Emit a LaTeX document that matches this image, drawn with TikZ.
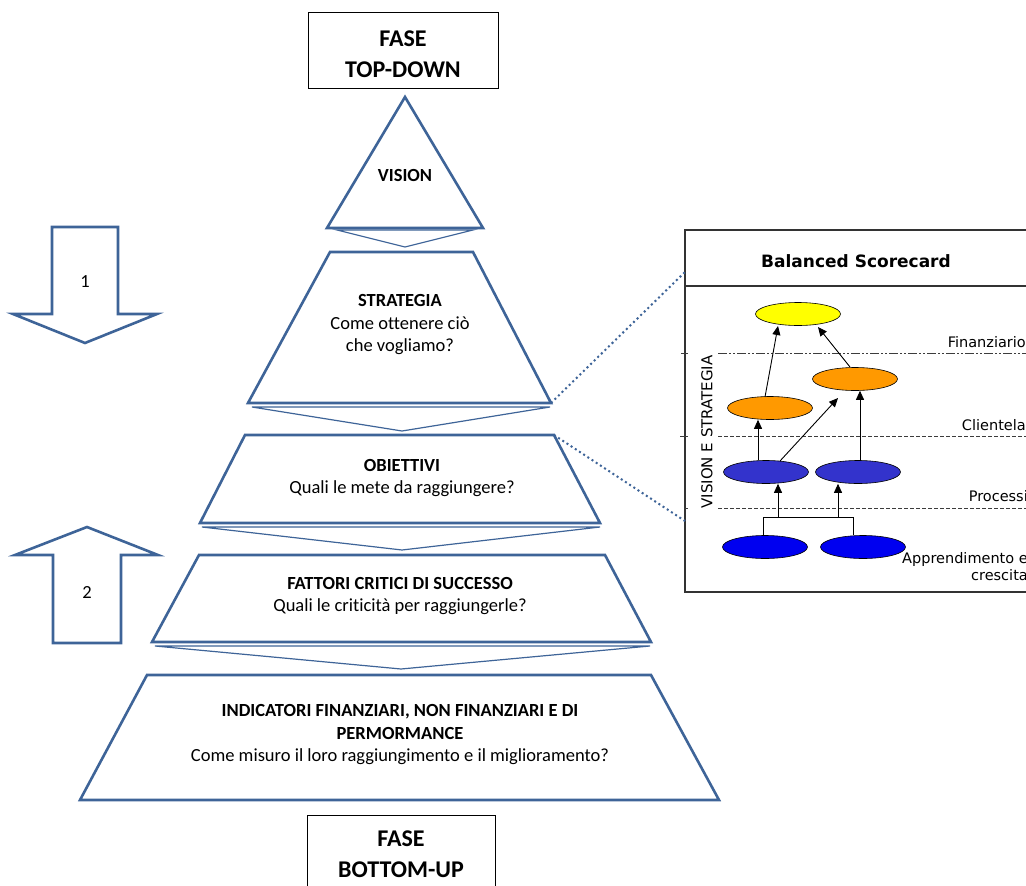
\documentclass[tikz,border=0pt]{standalone}
\usepackage{fontspec}
\setmainfont{Carlito}[Ligatures=NoCommon]
\newfontfamily\bscfont{DejaVu Sans}
\usetikzlibrary{arrows.meta,shapes.geometric}

\definecolor{shapeblue}{RGB}{62,100,152}
\definecolor{bscyellow}{RGB}{255,255,0}
\definecolor{bscorange}{RGB}{255,153,0}
\definecolor{bscblueA}{RGB}{51,51,204}
\definecolor{bscblueB}{RGB}{0,0,240}
\definecolor{gridgray}{RGB}{60,60,60}

\tikzset{
  level/.style={draw=shapeblue, line width=2.6pt, fill=white, line join=miter},
  chevron/.style={draw=shapeblue, line width=1.2pt, fill=white, line join=miter},
  bigarrow/.style={draw=shapeblue, line width=2.6pt, fill=white, line join=miter},
  phasebox/.style={draw=black, line width=0.9pt, fill=white},
  phasetxt/.style={align=center, inner sep=0pt, font=\fontsize{24}{31}\selectfont\bfseries},
  lvltxt/.style={align=center, inner sep=0pt, font=\fontsize{18.5}{22.5}\selectfont},
  numtxt/.style={inner sep=0pt, font=\fontsize{18.5}{22}\selectfont},
  link/.style={draw=shapeblue, line width=2pt, dash pattern=on 2pt off 3pt},
  oval/.style={ellipse, draw=black, line width=0.6pt, minimum width=85pt, minimum height=23pt, inner sep=0pt},
  flow/.style={draw=black, line width=0.9pt, -{Triangle[length=9pt,width=8pt]}},
  plain/.style={draw=black, line width=0.9pt},
  bsctxt/.style={inner sep=0pt, font=\bscfont\fontsize{14.5}{17}\selectfont},
}

\begin{document}
\begin{tikzpicture}[x=1pt,y=-1pt]
\useasboundingbox (0,0) rectangle (1026,886);
\clip (0,0) rectangle (1026,886);

% ---------- phase boxes ----------
\draw[phasebox] (308,12) rectangle (498,88);
\node[phasetxt] (topdown) at (403,54) {FASE\\TOP-DOWN};
\draw[phasebox] (307,815) rectangle (495,900);
\node[phasetxt] (bottomup) at (401,854) {FASE\\BOTTOM-UP};

% ---------- chevrons between the levels ----------
\draw[chevron] (337,230) -- (473,230) -- (405,247) -- cycle;
\draw[chevron] (252,407) -- (550,407) -- (402,431) -- cycle;
\draw[chevron] (202,527) -- (600,527) -- (402,550) -- cycle;
\draw[chevron] (155,646) -- (650,646) -- (401,669) -- cycle;

% ---------- pyramid levels ----------
\draw[level] (405,97) -- (483,228) -- (327,228) -- cycle;
\node[lvltxt, font=\fontsize{18.5}{22.5}\selectfont\bfseries] (vision) at (405,175) {VISION};

\coordinate (strTR) at (473,252);
\coordinate (strBR) at (551,403);
\draw[level] (330,252) -- (strTR) -- (strBR) -- (248,403) -- cycle;
\node[lvltxt] (strategia) at (400,325) {\textbf{STRATEGIA}\\Come ottenere ciò\\che vogliamo?};

\coordinate (obiTR) at (554,435);
\draw[level] (245,435) -- (obiTR) -- (600,523) -- (200,523) -- cycle;
\node[lvltxt] (obiettivi) at (402,478) {\textbf{OBIETTIVI}\\Quali le mete da raggiungere?};

\draw[level] (199,555) -- (605,555) -- (651,642) -- (152,642) -- cycle;
\node[lvltxt] (fattori) at (400,596) {\textbf{FATTORI CRITICI DI SUCCESSO}\\Quali le criticità per raggiungerle?};

\draw[level] (147,675) -- (651,675) -- (719,800) -- (80,800) -- cycle;
\node[lvltxt] (indicatori) at (400,735) {\textbf{INDICATORI FINANZIARI, NON FINANZIARI E DI}\\\textbf{PERMORMANCE}\\Come misuro il loro raggiungimento e il miglioramento?};

% ---------- direction arrows ----------
\draw[bigarrow] (52,227) -- (118,227) -- (118,314) -- (157,314) -- (85,343)
  -- (13,314) -- (52,314) -- cycle;
\node[numtxt] (one) at (85,282) {1};
\draw[bigarrow] (87,527) -- (158,555) -- (121,555) -- (121,643) -- (53,643)
  -- (53,555) -- (15,555) -- cycle;
\node[numtxt] (two) at (87,592) {2};

% ---------- balanced scorecard panel ----------
\coordinate (bscTL) at (685,272);
\coordinate (bscML) at (685,521);
\draw[draw=black!80, line width=1.1pt] (685,230) rectangle (1040,592);
\draw[draw=black!80, line width=1.1pt] (685,286) -- (1040,286);
\node[inner sep=0pt, font=\bscfont\bfseries\fontsize{17}{20}\selectfont] (bsctitle) at (856,261) {Balanced Scorecard};

% perspective separators
\draw[gridgray, line width=0.8pt, dash pattern=on 9pt off 2pt on 2pt off 2pt on 2pt off 2pt] (718,353) -- (1030,353);
\draw[gridgray, line width=0.8pt, dash pattern=on 4pt off 2pt] (718,436) -- (1030,436);
\draw[gridgray, line width=0.8pt, dash pattern=on 4pt off 2pt] (718,508) -- (1030,508);
\draw[gridgray, line width=0.8pt] (681,353) -- (688,353);
\draw[gridgray, line width=0.8pt] (680,436) -- (688,436);
\draw[gridgray, line width=0.8pt] (684,508) -- (688,508);

\node[bsctxt, anchor=east] (finanz) at (1026,342) {Finanziario};
\node[bsctxt, anchor=east] (client) at (1026,425) {Clientela};
\node[bsctxt, anchor=east] (proc) at (1028,496) {Processi};
\node[bsctxt, anchor=east, align=right] (appr) at (1028,567) {Apprendimento e\\crescita};
\node[bsctxt, rotate=90, font=\bscfont\fontsize{15}{17}\selectfont] (vistr) at (707,432) {VISION E STRATEGIA};

% objectives
\node[oval, fill=bscyellow] (fin) at (798,314) {};
\node[oval, fill=bscorange] (cliB) at (855,379) {};
\node[oval, fill=bscorange] (cliA) at (770,408) {};
\node[oval, fill=bscblueA] (proA) at (766,472) {};
\node[oval, fill=bscblueA] (proB) at (858,472) {};
\node[oval, fill=bscblueB] (appA) at (765,547) {};
\node[oval, fill=bscblueB] (appB) at (863,547) {};

% cause-effect links
\coordinate (joinL) at (763,517);
\coordinate (joinR) at (853,517);
\draw[plain] (appA.north -| joinL) -- (joinL) -- (joinR) -- (appB.north -| joinR);
\draw[flow] (778,517) -- (proA.south -| 778,0);
\draw[flow] (838,517) -- (proB.south -| 838,0);
\draw[flow] (proA.north -| 758,0) -- (cliA.south -| 758,0);
\draw[flow] (780,461) -- (838,398);
\draw[flow] (proB.north -| 860,0) -- (cliB.south -| 860,0);
\draw[flow] (765,397) -- (778,326);
\draw[flow] (850,367) -- (818,327);

% links from the pyramid to the panel
\draw[link] (strBR) -- (bscTL);
\draw[link] (obiTR) -- (bscML);
\end{tikzpicture}
\end{document}
